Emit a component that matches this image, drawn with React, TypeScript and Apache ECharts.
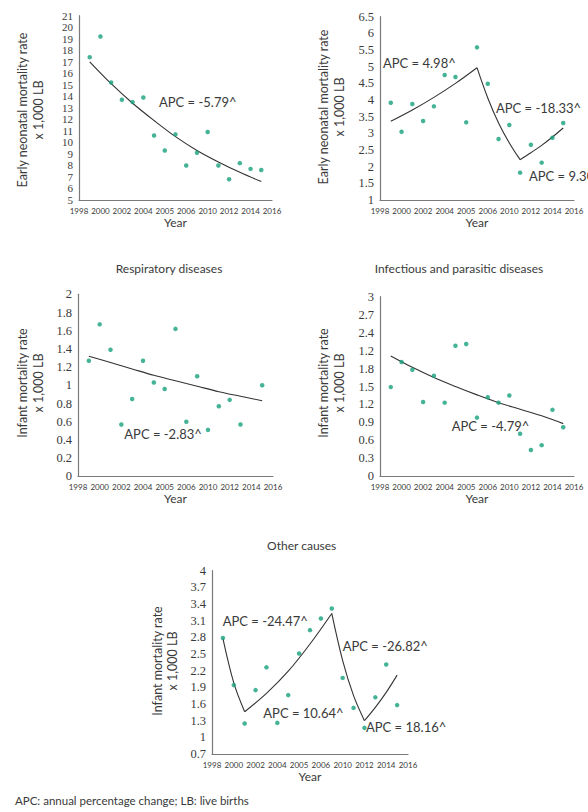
import React, { useEffect, useRef } from "react";
import * as echarts from "echarts";

// Observation years shared by every panel
const years = [1999, 2000, 2001, 2002, 2003, 2004, 2005, 2006, 2007, 2008, 2009, 2010, 2011, 2012, 2013, 2014, 2015];

// x-axis tick labels (as printed on the figure)
const xTickLabels = ["1998", "2000", "2002", "2004", "2005", "2006", "2010", "2012", "2014", "2016"];

// Early neonatal mortality (panel A)
const earlyA = [17.4, 19.2, 15.2, 13.7, 13.5, 13.9, 10.6, 9.3, 10.7, 8.0, 9.1, 10.9, 8.0, 6.8, 8.2, 7.7, 7.6];
const earlyATrendYears = [1999, 2001, 2003, 2005, 2007, 2009, 2011, 2013, 2015];
const earlyATrend = [17.0, 15.1, 13.4, 11.9, 10.5, 9.3, 8.3, 7.4, 6.6];
const earlyATicks = ["5", "6", "7", "8", "9", "10", "11", "12", "13", "14", "15", "16", "17", "18", "19", "20", "21"];

// Early neonatal mortality (panel B)
const earlyB = [3.92, 3.05, 3.88, 3.37, 3.81, 4.75, 4.69, 3.33, 5.58, 4.49, 2.83, 3.25, 1.82, 2.66, 2.12, 2.87, 3.31];
const earlyBSeg1Years = [1999, 2001, 2003, 2005, 2007];
const earlyBSeg1 = [3.36, 3.70, 4.08, 4.50, 4.97];
const earlyBSeg2Years = [2007, 2008, 2009, 2010, 2011];
const earlyBSeg2 = [4.97, 4.06, 3.31, 2.71, 2.21];
const earlyBSeg3Years = [2011, 2012, 2013, 2014, 2015];
const earlyBSeg3 = [2.21, 2.42, 2.64, 2.89, 3.16];
const earlyBTicks = ["1", "1.5", "2", "2.5", "3", "3.5", "4", "4.5", "5", "5.5", "6", "6.5"];

// Respiratory diseases (no value for 2014)
const respiratory = [1.27, 1.67, 1.39, 0.57, 0.85, 1.27, 1.03, 0.96, 1.62, 0.60, 1.10, 0.51, 0.77, 0.84, 0.57, null, 1.0];
const respiratoryTrendYears = [1999, 2001, 2003, 2005, 2007, 2009, 2011, 2013, 2015];
const respiratoryTrend = [1.32, 1.25, 1.18, 1.11, 1.05, 0.99, 0.93, 0.88, 0.83];
const respiratoryTicks = ["0", "0.2", "0.4", "0.6", "0.8", "1", "1.2", "1.4", "1.6", "1.8", "2"];

// Infectious and parasitic diseases
const infectious = [1.49, 1.91, 1.78, 1.24, 1.68, 1.23, 2.18, 2.21, 0.98, 1.32, 1.23, 1.35, 0.71, 0.44, 0.52, 1.11, 0.82];
const infectiousTrendYears = [1999, 2001, 2003, 2005, 2007, 2009, 2011, 2013, 2015];
const infectiousTrend = [2.01, 1.82, 1.65, 1.50, 1.36, 1.23, 1.12, 1.01, 0.88];
const infectiousTicks = ["0", "0.3", "0.6", "0.9", "1.2", "1.5", "1.8", "1.2", "2.4", "2.7", "3"];

// Other causes
const other = [2.79, 1.94, 1.25, 1.85, 2.26, 1.26, 1.76, 2.51, 2.93, 3.14, 3.32, 2.07, 1.53, 1.17, 1.72, 2.31, 1.58];
const otherSeg1Years = [1999, 2000, 2001];
const otherSeg1 = [2.78, 1.98, 1.46];
const otherSeg2Years = [2001, 2003, 2005, 2007, 2009];
const otherSeg2 = [1.46, 1.79, 2.19, 2.68, 3.23];
const otherSeg3Years = [2009, 2010, 2011, 2012];
const otherSeg3 = [3.23, 2.38, 1.75, 1.30];
const otherSeg4Years = [2012, 2013, 2014, 2015];
const otherSeg4 = [1.30, 1.54, 1.81, 2.12];
const otherTicks = ["0.7", "1", "1.3", "1.6", "1.9", "2.2", "2.5", "2.8", "3.1", "3.4", "3.7", "4"];

const SANS = "Lato, 'Open Sans', sans-serif";
const SERIF = "'Liberation Serif', 'DejaVu Serif', serif";
const TEXT = "#3a3a3a";
const DOT = "#17a07c";
const LINE = "#333333";
const AXIS = "#7a7a7a";

type Panel = {
  grid: { left: number; top: number; width: number; height: number };
  min: number;
  max: number;
  interval: number;
  tickFont: number;
  ticks: string[];
  values: (number | null)[];
  trend: { years: number[]; values: number[] }[];
  yName: [string, string];
  yNamePos: [number, number, number];
  labels: { text: string; x: number; y: number }[];
  title?: { text: string; x: number; y: number };
};

const panels: Panel[] = [
  {
    grid: { left: 79, top: 15.7, width: 193, height: 184.3 },
    min: 5, max: 21, interval: 1, tickFont: 11, ticks: earlyATicks, values: earlyA,
    trend: [{ years: earlyATrendYears, values: earlyATrend }],
    yName: ["Early neonatal mortality rate", "x 1,000 LB"], yNamePos: [22, 38, 110],
    labels: [{ text: "APC = -5.79^", x: 159, y: 101.7 }],
  },
  {
    grid: { left: 380, top: 16.7, width: 194, height: 183.3 },
    min: 1, max: 6.5, interval: 0.5, tickFont: 12.5, ticks: earlyBTicks, values: earlyB,
    trend: [
      { years: earlyBSeg1Years, values: earlyBSeg1 },
      { years: earlyBSeg2Years, values: earlyBSeg2 },
      { years: earlyBSeg3Years, values: earlyBSeg3 },
    ],
    yName: ["Early neonatal mortality rate", "x 1,000 LB"], yNamePos: [323, 339, 107],
    labels: [
      { text: "APC = 4.98^", x: 383, y: 63.3 },
      { text: "APC = -18.33^", x: 496, y: 108 },
      { text: "APC = 9.30^", x: 529, y: 175.7 },
    ],
  },
  {
    grid: { left: 78, top: 294.3, width: 195, height: 182 },
    min: 0, max: 2, interval: 0.2, tickFont: 12.5, ticks: respiratoryTicks, values: respiratory,
    trend: [{ years: respiratoryTrendYears, values: respiratoryTrend }],
    yName: ["Infant mortality rate", "x 1,000 LB"], yNamePos: [22, 38, 383],
    labels: [{ text: "APC = -2.83^", x: 124.3, y: 434 }],
    title: { text: "Respiratory diseases", x: 169, y: 268.3 },
  },
  {
    grid: { left: 380, top: 296.7, width: 194, height: 179.6 },
    min: 0, max: 3, interval: 0.3, tickFont: 12.5, ticks: infectiousTicks, values: infectious,
    trend: [{ years: infectiousTrendYears, values: infectiousTrend }],
    yName: ["Infant mortality rate", "x 1,000 LB"], yNamePos: [323.3, 339, 383],
    labels: [{ text: "APC = -4.79^", x: 451.7, y: 425.7 }],
    title: { text: "Infectious and parasitic diseases", x: 459, y: 268.3 },
  },
  {
    grid: { left: 212, top: 570.7, width: 196, height: 183.3 },
    min: 0.7, max: 4, interval: 0.3, tickFont: 12.5, ticks: otherTicks, values: other,
    trend: [
      { years: otherSeg1Years, values: otherSeg1 },
      { years: otherSeg2Years, values: otherSeg2 },
      { years: otherSeg3Years, values: otherSeg3 },
      { years: otherSeg4Years, values: otherSeg4 },
    ],
    yName: ["Infant mortality rate", "x 1,000 LB"], yNamePos: [157, 172.7, 661],
    labels: [
      { text: "APC = -24.47^", x: 222.7, y: 620.7 },
      { text: "APC = -26.82^", x: 342.7, y: 645.7 },
      { text: "APC = 10.64^", x: 263.3, y: 712.7 },
      { text: "APC = 18.16^", x: 366, y: 727.3 },
    ],
    title: { text: "Other causes", x: 301.7, y: 545 },
  },
];

function buildOption() {
  const grids: any[] = [];
  const xAxes: any[] = [];
  const yAxes: any[] = [];
  const series: any[] = [];
  const graphics: any[] = [];

  panels.forEach((p, i) => {
    grids.push({ ...p.grid, containLabel: false });
    xAxes.push({
      type: "value",
      gridIndex: i,
      min: 1998,
      max: 2016,
      interval: 2,
      axisLine: { show: true, onZero: false, lineStyle: { color: AXIS, width: 1.2 } },
      axisTick: { show: false },
      splitLine: { show: false },
      axisLabel: {
        color: TEXT,
        fontFamily: SANS,
        fontSize: 8,
        margin: 7,
        showMinLabel: true,
        showMaxLabel: true,
        formatter: (v: number) => xTickLabels[Math.round((v - 1998) / 2)] ?? "",
      },
    });
    yAxes.push({
      type: "value",
      gridIndex: i,
      min: p.min,
      max: p.max,
      interval: p.interval,
      axisLine: { show: true, onZero: false, lineStyle: { color: AXIS, width: 1.2 } },
      axisTick: { show: false },
      splitLine: { show: false },
      axisLabel: {
        color: TEXT,
        fontFamily: SERIF,
        fontSize: p.tickFont,
        lineHeight: p.tickFont,
        margin: 6,
        showMinLabel: true,
        showMaxLabel: true,
        hideOverlap: false,
        formatter: (v: number) => p.ticks[Math.round((v - p.min) / p.interval)] ?? "",
      },
    });
    series.push({
      type: "scatter",
      xAxisIndex: i,
      yAxisIndex: i,
      symbolSize: 4.5,
      itemStyle: { color: DOT },
      data: years
        .map((y, k) => [y, p.values[k]])
        .filter((d) => d[1] !== null && d[1] !== undefined),
      z: 3,
    });
    p.trend.forEach((seg) => {
      series.push({
        type: "line",
        xAxisIndex: i,
        yAxisIndex: i,
        smooth: 0.35,
        showSymbol: false,
        symbol: "none",
        lineStyle: { color: LINE, width: 1.1 },
        data: seg.years.map((y, k) => [y, seg.values[k]]),
        z: 2,
      });
    });

    // rotated two-line axis name
    const [x1, x2, cy] = p.yNamePos;
    [p.yName[0], p.yName[1]].forEach((t, k) => {
      graphics.push({
        type: "text",
        x: k === 0 ? x1 : x2,
        y: cy,
        rotation: Math.PI / 2,
        style: {
          text: t,
          fill: TEXT,
          font: `12.5px ${SANS}`,
          textAlign: "center",
          textVerticalAlign: "middle",
        },
      });
    });

    // "Year" under the x axis
    graphics.push({
      type: "text",
      x: p.grid.left + p.grid.width / 2,
      y: p.grid.top + p.grid.height + 22,
      style: { text: "Year", fill: TEXT, font: `12px ${SANS}`, textAlign: "center", textVerticalAlign: "middle" },
    });

    p.labels.forEach((l) => {
      graphics.push({
        type: "text",
        x: l.x,
        y: l.y,
        style: { text: l.text, fill: TEXT, font: `13px ${SANS}`, textAlign: "left", textVerticalAlign: "middle" },
      });
    });

    if (p.title) {
      graphics.push({
        type: "text",
        x: p.title.x,
        y: p.title.y,
        style: { text: p.title.text, fill: TEXT, font: `12px ${SANS}`, textAlign: "center", textVerticalAlign: "middle" },
      });
    }
  });

  graphics.push({
    type: "text",
    x: 15,
    y: 800,
    style: {
      text: "APC: annual percentage change; LB: live births",
      fill: TEXT,
      font: `11.5px ${SANS}`,
      textAlign: "left",
      textVerticalAlign: "middle",
    },
  });
  graphics.push({
    type: "text",
    x: 15,
    y: 818,
    style: {
      text: "^ statistically different from zero",
      fill: TEXT,
      font: `11.5px ${SANS}`,
      textAlign: "left",
      textVerticalAlign: "middle",
    },
  });

  return {
    animation: false,
    backgroundColor: "#ffffff",
    grid: grids,
    xAxis: xAxes,
    yAxis: yAxes,
    series,
    graphic: graphics,
  };
}

export default function App() {
  const ref = useRef<HTMLDivElement>(null);

  useEffect(() => {
    if (!ref.current) return;
    const chart = echarts.init(ref.current, undefined, { renderer: "svg" });
    chart.setOption(buildOption());
    return () => chart.dispose();
  }, []);

  return (
    <div
      ref={ref}
      style={{ position: "absolute", left: 0, top: 0, width: 588, height: 812 }}
    />
  );
}
